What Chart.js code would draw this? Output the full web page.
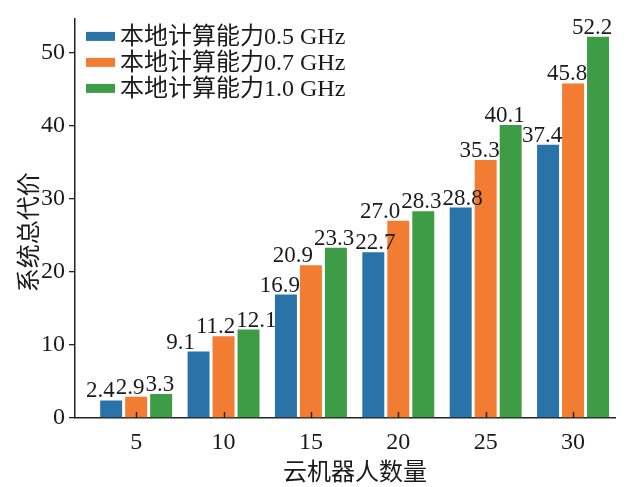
<!DOCTYPE html>
<html>
<head>
<meta charset="utf-8">
<script src="https://cdn.jsdelivr.net/npm/chart.js@4.4.1/dist/chart.umd.min.js"></script>
<style>
  html, body { margin: 0; padding: 0; background: #ffffff; }
  #wrap { width: 627px; height: 487px; position: relative; }
</style>
</head>
<body>
<div id="wrap"><canvas id="c" width="627" height="487"></canvas></div>
<script>
// Number of cloud robots (x positions of the bar groups)
const robotCounts = [5, 10, 15, 20, 25, 30];

// Total system cost for each local computing capability
const cost05 = [2.4, 9.1, 16.9, 22.7, 28.8, 37.4];
const cost07 = [2.9, 11.2, 20.9, 27.0, 35.3, 45.8];
const cost10 = [3.3, 12.1, 23.3, 28.3, 40.1, 52.2];

const seriesLabels = ['本地计算能力0.5 GHz', '本地计算能力0.7 GHz', '本地计算能力1.0 GHz'];
const yTickValues = [0, 10, 20, 30, 40, 50];
const xTickValues = [5, 10, 15, 20, 25, 30];

const xTitle = '云机器人数量';
const yTitle = '系统总代价';

const FONT = '"Liberation Serif", "Times New Roman", "Noto Sans CJK SC", serif';
const INK = '#1a1a1a';
const AXIS = '#222222';
const COLORS = ['#2a73a9', '#f27c32', '#3f9c46'];

const toPoints = vals => vals.map((v, i) => ({ x: robotCounts[i], y: v }));

// Value labels above each bar (nudged sideways when they collide),
// plus the inward x-axis tick marks
const valueLabels = {
  id: 'valueLabels',
  afterDatasetsDraw(chart) {
    const ctx = chart.ctx;
    const xs = chart.scales.x;
    const y0 = chart.chartArea.bottom;
    ctx.save();
    ctx.strokeStyle = AXIS;
    ctx.lineWidth = 1.4;
    xTickValues.forEach(v => {
      const px = Math.round(xs.getPixelForValue(v)) + 0.5;
      ctx.beginPath();
      ctx.moveTo(px, y0);
      ctx.lineTo(px, y0 - 6);
      ctx.stroke();
    });

    ctx.font = '23px ' + FONT;
    ctx.fillStyle = INK;
    ctx.textAlign = 'center';
    ctx.textBaseline = 'alphabetic';
    const textH = 18;
    const items = [];
    chart.data.datasets.forEach((ds, d) => {
      chart.getDatasetMeta(d).data.forEach((el, g) => {
        const txt = ds.data[g].y.toFixed(1);
        items.push({ txt, x: el.x - 6, y: el.y - 3, w: ctx.measureText(txt).width });
      });
    });
    items.sort((a, b) => a.x - b.x);
    for (let pass = 0; pass < 10; pass++) {
      for (let i = 0; i < items.length; i++) {
        for (let j = i + 1; j < items.length; j++) {
          const a = items[i], b = items[j];
          if (Math.abs(a.y - b.y) >= textH) continue;
          const gap = (b.x - b.w / 2) - (a.x + a.w / 2);
          if (gap < 1) {
            const push = (1 - gap) / 2;
            a.x -= push;
            b.x += push;
          }
        }
      }
    }
    items.forEach(it => ctx.fillText(it.txt, it.x, it.y));
    ctx.restore();
  }
};

// Legend in the upper left corner of the plot area
const cornerLegend = {
  id: 'cornerLegend',
  afterDraw(chart) {
    const ctx = chart.ctx;
    const a = chart.chartArea;
    ctx.save();
    ctx.font = '24px ' + FONT;
    ctx.textBaseline = 'middle';
    ctx.textAlign = 'left';
    chart.data.datasets.forEach((ds, i) => {
      const cy = a.top + 18 + i * 26;
      ctx.fillStyle = ds.backgroundColor;
      ctx.fillRect(a.left + 11, cy - 4.5, 29, 9);
      ctx.fillStyle = INK;
      ctx.fillText(ds.label, a.left + 45, cy + 1);
    });
    ctx.restore();
  }
};

// Axis titles
const axisTitles = {
  id: 'axisTitles',
  afterDraw(chart) {
    const ctx = chart.ctx;
    const a = chart.chartArea;
    ctx.save();
    ctx.font = '24px ' + FONT;
    ctx.fillStyle = INK;
    ctx.textAlign = 'center';
    ctx.textBaseline = 'middle';
    ctx.fillText(xTitle, (a.left + a.right) / 2 + 10, 474);
    ctx.translate(31, (a.top + a.bottom) / 2 + 14);
    ctx.rotate(-Math.PI / 2);
    ctx.fillText(yTitle, 0, 0);
    ctx.restore();
  }
};

new Chart(document.getElementById('c'), {
  type: 'bar',
  data: {
    datasets: [
      { label: seriesLabels[0], data: toPoints(cost05), backgroundColor: COLORS[0] },
      { label: seriesLabels[1], data: toPoints(cost07), backgroundColor: COLORS[1] },
      { label: seriesLabels[2], data: toPoints(cost10), backgroundColor: COLORS[2] }
    ]
  },
  options: {
    responsive: false,
    animation: false,
    devicePixelRatio: 1,
    layout: { padding: { top: 15, right: 12, left: 0, bottom: 0 } },
    datasets: {
      bar: { categoryPercentage: 0.858, barPercentage: 0.88, borderWidth: 0 }
    },
    plugins: {
      legend: { display: false },
      tooltip: { enabled: false }
    },
    scales: {
      x: {
        type: 'linear',
        min: 1.5,
        max: 32.4,
        offset: false,
        afterBuildTicks: s => { s.ticks = xTickValues.map(v => ({ value: v })); },
        afterFit: s => { s.height = 69; },
        grid: { display: false, drawOnChartArea: false, drawTicks: false },
        border: { display: true, color: AXIS, width: 1.5 },
        ticks: { color: INK, font: { family: FONT, size: 24 }, padding: 10, maxRotation: 0, autoSkip: false }
      },
      y: {
        type: 'linear',
        min: 0,
        max: 54.7,
        afterBuildTicks: s => { s.ticks = yTickValues.map(v => ({ value: v })); },
        afterFit: s => { s.width = 75; },
        grid: { display: true, drawOnChartArea: false, drawTicks: true, tickLength: 6, color: AXIS, lineWidth: 1.3 },
        border: { display: true, color: AXIS, width: 1.5 },
        ticks: { color: INK, font: { family: FONT, size: 24 }, padding: 4 }
      }
    }
  },
  plugins: [valueLabels, cornerLegend, axisTitles]
});
</script>
</body>
</html>
